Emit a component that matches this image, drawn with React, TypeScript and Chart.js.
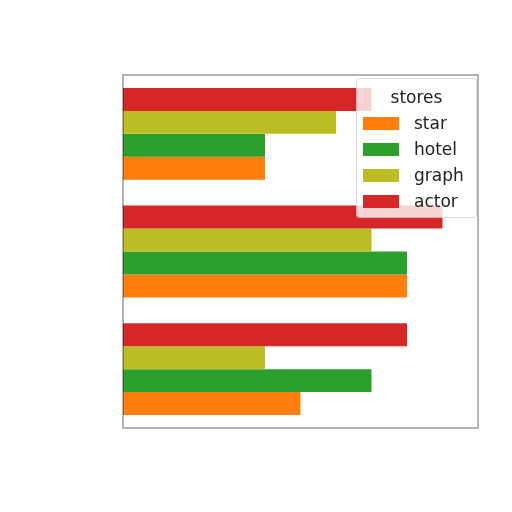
import { useEffect, useRef } from "react";
import { Chart, registerables } from "chart.js";

Chart.register(...registerables);

// three groups, no visible labels on the axis
const groups = ["", "", ""];
// series listed top-to-bottom inside each group
const seriesNames = ["actor", "graph", "hotel", "star"];
const actor = [7, 9, 8];
const graph = [6, 7, 4];
const hotel = [4, 8, 7];
const star = [4, 8, 5];
const seriesValues = [actor, graph, hotel, star];
const seriesColors = ["#d62728", "#bcbd22", "#2ca02c", "#ff7f0e"];
const xMax = 10;
const legendTitle = "stores";

const framePlugin = {
  id: "frame",
  afterDraw(chart: Chart) {
    const { ctx, chartArea } = chart;
    ctx.save();
    ctx.strokeStyle = "rgba(0,0,0,0.4)";
    ctx.lineWidth = 1.5;
    ctx.strokeRect(chartArea.left, chartArea.top, chartArea.right - chartArea.left, chartArea.bottom - chartArea.top);
    ctx.restore();
  },
};

export default function App() {
  const chartRef = useRef<HTMLCanvasElement>(null);
  const chartInstance = useRef<Chart | null>(null);

  useEffect(() => {
    if (!chartRef.current) return;
    const ctx = chartRef.current.getContext("2d");
    if (!ctx) return;
    if (chartInstance.current) chartInstance.current.destroy();

    chartInstance.current = new Chart(ctx, {
      type: "bar",
      data: {
        labels: groups,
        datasets: seriesNames.map((name, i) => ({
          label: name,
          data: seriesValues[i],
          backgroundColor: seriesColors[i],
          borderWidth: 0,
          barPercentage: 1,
          categoryPercentage: 0.78,
        })),
      },
      options: {
        indexAxis: "y",
        animation: false,
        responsive: true,
        maintainAspectRatio: false,
        layout: { padding: { left: 123, top: 75, right: 34, bottom: 84 } },
        plugins: {
          legend: { display: false },
          tooltip: { enabled: false },
        },
        scales: {
          x: { display: false, min: 0, max: xMax },
          y: { display: false },
        },
      },
      plugins: [framePlugin],
    });

    return () => {
      if (chartInstance.current) {
        chartInstance.current.destroy();
        chartInstance.current = null;
      }
    };
  }, []);

  // legend shows series in reverse (star first)
  const legendOrder = seriesNames.map((_, i) => i).reverse();

  return (
    <div style={{ position: "fixed", left: 0, top: 0, width: 512, height: 512, background: "#fff" }}>
      <canvas ref={chartRef}></canvas>
      <div
        style={{
          position: "absolute",
          left: 356,
          top: 78,
          width: 121,
          padding: "5px 0 3px 0",
          background: "rgba(255,255,255,0.8)",
          border: "1px solid rgba(0,0,0,0.15)",
          borderRadius: 4,
          fontFamily: "'DejaVu Sans', sans-serif",
          fontSize: 17,
          color: "#222",
          boxSizing: "border-box",
        }}
      >
        <div style={{ height: 26, lineHeight: "26px", textAlign: "center" }}>{legendTitle}</div>
        {legendOrder.map((i) => (
          <div key={i} style={{ height: 26, display: "flex", alignItems: "center", paddingLeft: 6 }}>
            <span style={{ width: 36, height: 13, background: seriesColors[i], display: "inline-block" }}></span>
            <span style={{ marginLeft: 15, lineHeight: "26px" }}>{seriesNames[i]}</span>
          </div>
        ))}
      </div>
    </div>
  );
}
